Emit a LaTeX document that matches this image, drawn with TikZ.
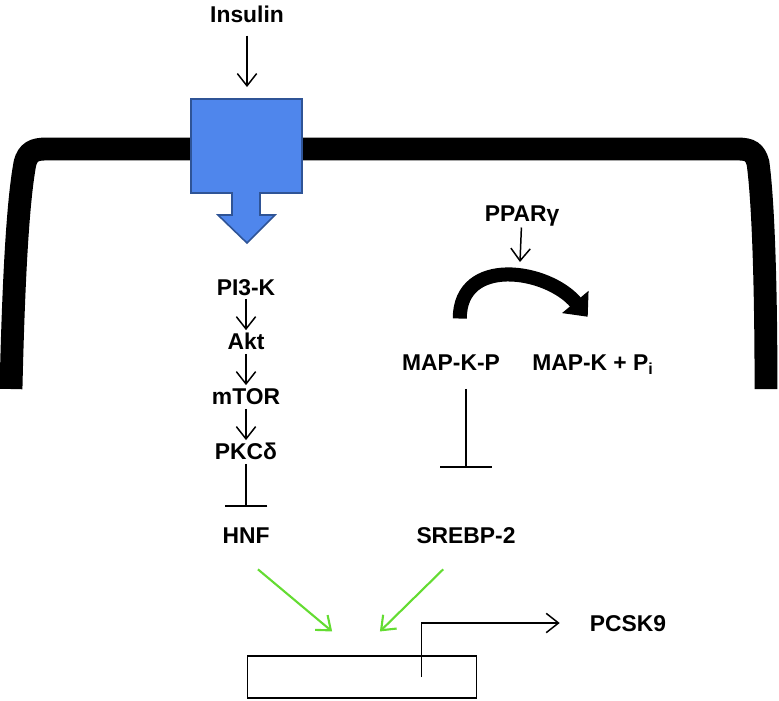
\documentclass[tikz,border=0pt]{standalone}
\usepackage{fontspec}
\setmainfont{Liberation Sans}
\usepackage{tikz}
\usetikzlibrary{arrows.meta}
\definecolor{receptorblue}{RGB}{79,134,236}
\definecolor{receptoredge}{RGB}{47,84,150}
\definecolor{actgreen}{RGB}{100,220,50}
\tikzstyle{molecule} = [font=\fontsize{13}{15}\selectfont\bfseries, inner sep=2pt, text height=9.1pt, text depth=0pt]
\tikzstyle{arrow} = [line width=0.85pt,-{Straight Barb[length=7pt,width=11pt]}]
\tikzstyle{inhibit} = [line width=0.85pt,-{Bar[width=24.4pt]}]
\tikzstyle{activate} = [line width=1.2pt, draw=actgreen,-{Straight Barb[length=7pt,width=11pt]}]
\tikzstyle{membrane} = [line width=13pt]
\tikzstyle{receptor} = [fill=receptorblue, draw=receptoredge, line width=0.9pt, line join=miter]
\tikzstyle{dephos} = [line width=8pt,-{Triangle[length=11pt,width=19pt]}]
\tikzstyle{promoterbox} = [rectangle, draw, line width=0.85pt, minimum width=130.4pt, minimum height=23.8pt]

\begin{document}
\begin{tikzpicture}[x=0.02cm, y=-0.02cm, node distance=1.1cm]
\useasboundingbox (0,0) rectangle (779,701);
% cell membrane
\draw [membrane] (11,389) .. controls (14,260) and (19,195) .. (25,163) .. controls (28,152) and (34,149) .. (46,149) -- (738,149) .. controls (750,149) and (755,152) .. (758,163) .. controls (763,200) and (766,280) .. (766,389);
% insulin receptor
\draw [receptor] (191,99) -- (302,99) -- (302,193) -- (260,193) -- (260,215) -- (275,215) -- (247,243) -- (218,215) -- (232,215) -- (232,193) -- (191,193) -- cycle;
\coordinate (rec) at (247,99);
\coordinate (apex) at (520,262);
\node (insulin) [molecule] at (247,14) {Insulin};
\node (pi3k) [molecule] at (246,287) {PI3-K};
\node (akt) [molecule, below of=pi3k] {Akt};
\node (mtor) [molecule, below of=akt] {mTOR};
\node (pkc) [molecule, below of=mtor] {PKCδ};
\node (hnf) [molecule] at (246,535) {HNF};
\node (ppar) [molecule] at (522,213) {PPARγ};
\node (mapkp) [molecule] at (451,362) {MAP-K-P};
\node (mapk) [molecule] at (593,362) {MAP-K + P\textsubscript{i}};
\node (srebp) [molecule] at (466,535) {SREBP-2};
\node (promoter) [promoterbox] at (362,677) {};
\node (pcsk9) [molecule] at (628,623) {PCSK9};
\draw [arrow, shorten <=5.5pt, shorten >=6.8pt] (insulin) -- (rec);
\draw [arrow] (pi3k) -- (akt);
\draw [arrow] (akt) -- (mtor);
\draw [arrow] (mtor) -- (pkc);
\draw [inhibit, shorten >=9.4pt] (pkc) -- (hnf);
\draw [arrow, shorten <=1.5pt] (ppar) -- (apex);
\draw [dephos] ([xshift=5pt,yshift=18pt]mapkp.north) to[out=90, in=130, looseness=1.25] ([xshift=-3pt,yshift=19pt]mapk.north);
\draw [inhibit, -{Bar[width=29.5pt]}, shorten <=8.5pt, shorten >=31.5pt] (mapkp.south -| srebp) -- (srebp.north);
\draw [activate] ([xshift=6.8pt,yshift=-12.8pt]hnf.south) -- ([xshift=-17pt,yshift=13.6pt]promoter.north);
\draw [activate] ([xshift=-13pt,yshift=-12.8pt]srebp.south) -- ([xshift=10.2pt,yshift=13.6pt]promoter.north);
\draw [arrow, shorten >=15pt] ([xshift=34pt]promoter.center) |- (pcsk9.west);
\end{tikzpicture}
\end{document}
